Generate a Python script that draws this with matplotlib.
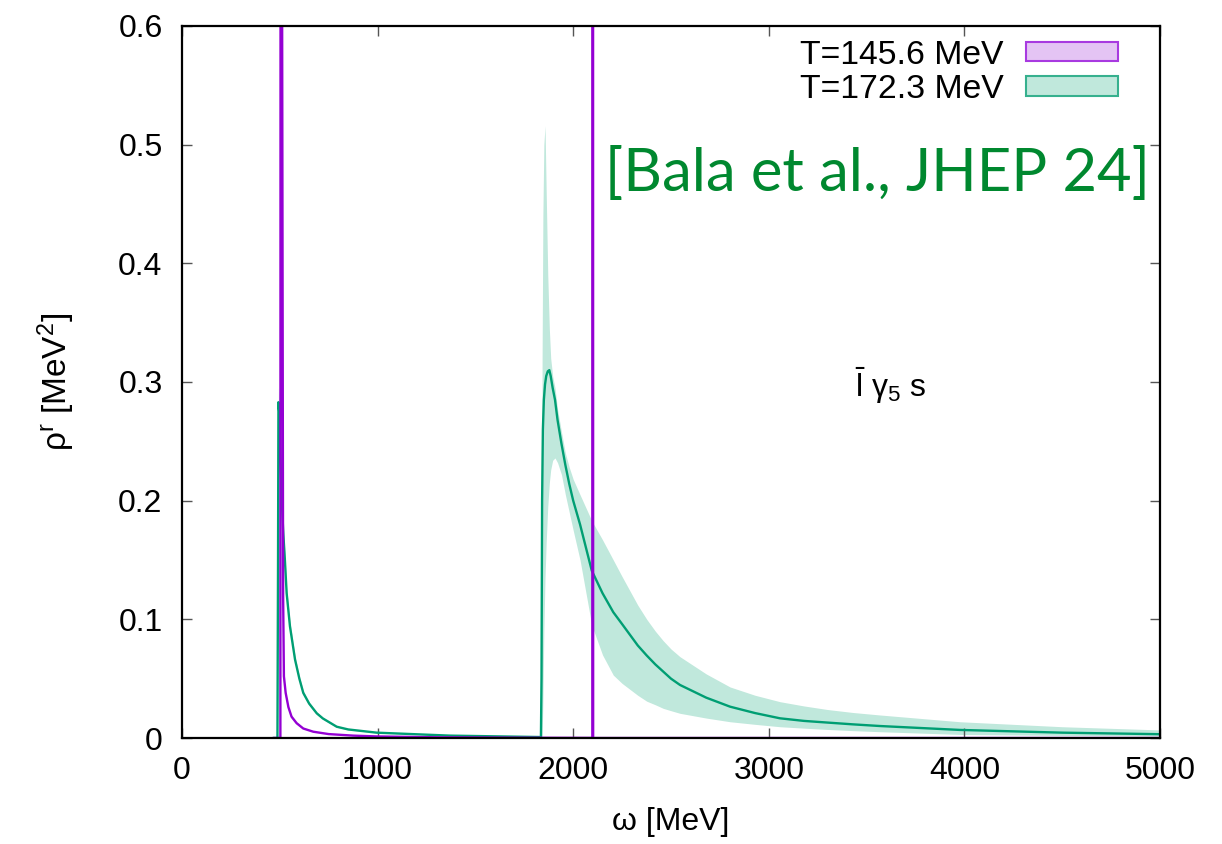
import matplotlib.pyplot as plt
from matplotlib.patches import Patch

plt.rcParams['font.family'] = ['Liberation Sans', 'DejaVu Sans']
plt.rcParams['mathtext.fontset'] = 'custom'
plt.rcParams['mathtext.rm'] = 'Liberation Sans'
plt.rcParams['mathtext.it'] = 'Liberation Sans:italic'

# T = 145.6 MeV (purple): narrow peak near 505 MeV and a spike at 2100 MeV
omega_p = [470, 503, 504, 506, 512, 517, 521, 530, 544, 560, 586, 620, 671, 750,
           875, 1000, 1300, 1800, 2098, 2100, 2102, 3000, 5000]
rho_p = [0, 0, 0.9, 3.0, 0.6, 0.12, 0.052, 0.038, 0.026, 0.018, 0.0125, 0.008, 0.0053,
         0.0033, 0.002, 0.0013, 0.0006, 0.0002, 0.0001, 3.0, 0, 0, 0]
rho_p_hi = [0, 0, 1.2, 3.3, 0.7, 0.14, 0.057, 0.041, 0.028, 0.0195, 0.0135, 0.0086, 0.0057,
            0.0035, 0.0021, 0.0014, 0.0006, 0.0002, 0.0001, 3.0, 0, 0, 0]
rho_p_lo = [0, 0, 0.31, 2.7, 0.5, 0.10, 0.047, 0.035, 0.024, 0.0165, 0.0115, 0.0074, 0.0049,
            0.0031, 0.0019, 0.0012, 0.0005, 0.0002, 0.0001, 3.0, 0, 0, 0]

# T = 172.3 MeV (green)
omega_g = [470, 488, 491, 493, 497, 503, 510, 518, 526, 535,
           552, 578, 600, 620, 650, 689, 720, 791, 850, 995, 1370, 1835,
           1838, 1841, 1845, 1850, 1856, 1862, 1870, 1878, 1885, 1895,
           1907, 1920, 1940, 1960, 1980, 2000, 2035, 2095, 2150, 2205,
           2250, 2290, 2330, 2376, 2420, 2460, 2500, 2546, 2680, 2802,
           2930, 3057, 3180, 3300, 3430, 3568, 3977, 4500, 5000]
rho_g = [0, 0, 0.15, 0.283, 0.275, 0.24, 0.20, 0.172, 0.150, 0.122,
         0.094, 0.066, 0.050, 0.038, 0.029, 0.0208, 0.0165, 0.0095, 0.0072, 0.0045,
         0.002, 0.0008,
         0.05, 0.20, 0.26, 0.285, 0.298, 0.305, 0.309, 0.31, 0.305, 0.295,
         0.285, 0.268, 0.248, 0.23, 0.214, 0.200, 0.180, 0.141, 0.122, 0.106,
         0.096, 0.087, 0.078, 0.0695, 0.062, 0.056, 0.050, 0.0447, 0.034, 0.0264,
         0.021, 0.0166, 0.0144, 0.0130, 0.0115, 0.0101, 0.0068, 0.0045, 0.0032]
rho_g_hi = [0, 0, 0.16, 0.295, 0.287, 0.25, 0.209, 0.179, 0.156, 0.127,
            0.098, 0.069, 0.052, 0.040, 0.0305, 0.0218, 0.0173, 0.0100, 0.0076, 0.0047,
            0.0021, 0.0009,
            0.15, 0.32, 0.44, 0.50, 0.516, 0.46, 0.39, 0.345, 0.32, 0.305,
            0.295, 0.277, 0.258, 0.24, 0.228, 0.218, 0.205, 0.183, 0.167, 0.150,
            0.136, 0.124, 0.112, 0.100, 0.090, 0.082, 0.075, 0.0685, 0.054, 0.043,
            0.036, 0.0306, 0.027, 0.024, 0.0215, 0.0194, 0.0137, 0.0095, 0.0068]
rho_g_lo = [0, 0, 0.14, 0.27, 0.263, 0.23, 0.191, 0.165, 0.144, 0.117,
            0.090, 0.063, 0.048, 0.036, 0.0275, 0.0198, 0.0157, 0.0090, 0.0068, 0.0043,
            0.0019, 0.0007,
            0, 0, 0.03, 0.09, 0.135, 0.165, 0.195, 0.215, 0.226, 0.234,
            0.236, 0.232, 0.222, 0.205, 0.19, 0.175, 0.150, 0.095, 0.070, 0.053,
            0.046, 0.041, 0.036, 0.031, 0.028, 0.025, 0.023, 0.0208, 0.0168, 0.0137,
            0.0115, 0.0095, 0.0083, 0.0072, 0.0062, 0.0053, 0.0030, 0.0022, 0.0017]

labels = ['T=145.6 MeV', 'T=172.3 MeV']
purple, purple_fill, purple_edge = '#9400d3', '#e4c4f4', '#a83ae0'
green, green_fill, green_edge = '#009e73', '#c0e8dc', '#36b08e'

fig = plt.figure(figsize=(12.22, 8.44), dpi=100)
ax = fig.add_axes([182 / 1222, 1 - 738 / 844, (1160 - 182) / 1222, (738 - 26) / 844])

ax.fill_between(omega_p, rho_p_lo, rho_p_hi, color=purple_fill, lw=0, zorder=1)
ax.fill_between(omega_g, rho_g_lo, rho_g_hi, color=green_fill, lw=0, zorder=1)
ax.plot(omega_g, rho_g, color=green, lw=1.7, zorder=3)
ax.plot(omega_p, rho_p, color=purple, lw=1.7, zorder=4)

ax.set_xlim(0, 5000)
ax.set_ylim(0, 0.6)
ax.set_xticks([0, 1000, 2000, 3000, 4000, 5000])
ax.set_yticks([0, 0.1, 0.2, 0.3, 0.4, 0.5, 0.6])
ax.set_yticklabels(['0', '0.1', '0.2', '0.3', '0.4', '0.5', '0.6'])
ax.tick_params(direction='in', length=7, width=1, color='#555555', top=True, right=True,
               labelsize=23)
ax.tick_params(axis='y', pad=14)
ax.tick_params(axis='x', pad=13)
for s in ax.spines.values():
    s.set_linewidth(1.6)
    s.set_zorder(6)

ax.set_xlabel('ω [MeV]', fontsize=23, labelpad=15)
ax.set_ylabel(r'ρ$^\mathregular{r}$ [MeV$^\mathregular{2}$]', fontsize=24, labelpad=30)

handles = [Patch(facecolor=purple_fill, edgecolor=purple_edge, lw=1.5, label=labels[0]),
           Patch(facecolor=green_fill, edgecolor=green_edge, lw=1.5, label=labels[1])]
ax.legend(handles=handles, loc='upper right', bbox_to_anchor=((1118 - 182) / 978, 0.981),
          markerfirst=False, frameon=False, fontsize=24.3, handlelength=2.74,
          handleheight=0.5, handletextpad=0.66, labelspacing=0.1, borderaxespad=0,
          borderpad=0)

ax.text(3440, 0.287, r'$\bar{\mathregular{l}}$ γ$_\mathregular{5}$ s', fontsize=23)

fig.text(1150 / 1222, 1 - 174 / 844, '[Bala et al., JHEP 24]', family='Lato', fontsize=43,
         color='#00882f', ha='right', va='center')

fig.savefig('out.png', dpi=100)
